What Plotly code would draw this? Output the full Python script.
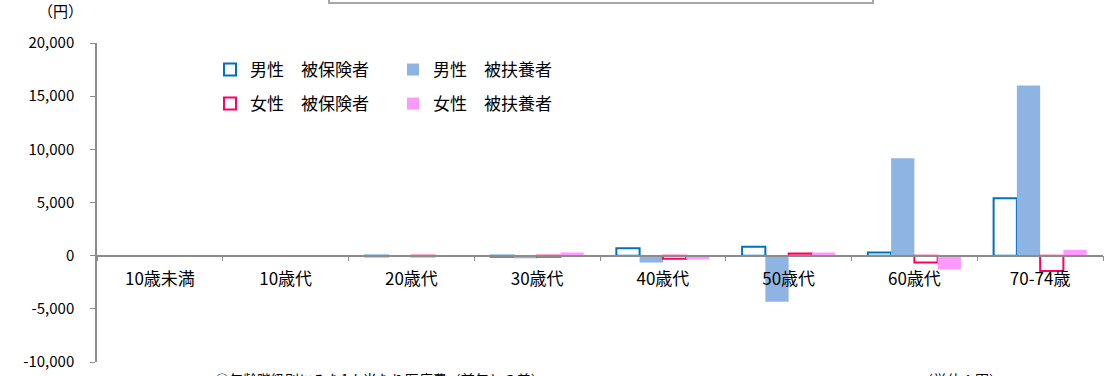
import plotly.graph_objects as go

categories = ["10歳未満", "10歳代", "20歳代", "30歳代", "40歳代", "50歳代", "60歳代", "70-74歳"]
male_insured = [None, None, -60, -100, 700, 850, 300, 5400]
male_dependent = [None, None, 0, -250, -650, -4330, 9150, 16000]
female_insured = [None, None, -60, -100, -300, 200, -650, -1450]
female_dependent = [None, None, 0, 300, -350, 300, -1300, 550]
yticks = [-10000, -5000, 0, 5000, 10000, 15000, 20000]
ytick_text = ["-10,000", "-5,000", "0", "5,000", "10,000", "15,000", "20,000"]

FONT = "Noto Sans CJK JP"
W, H = 1114, 376
# plot area in page pixels: x 97..1103, y 43..362
ML, MT = 97, 43
MR = W - 1103
MB = H - 362

fig = go.Figure()
fig.add_trace(go.Bar(x=categories, y=male_insured, name="男性　被保険者",
                     marker=dict(color="white", line=dict(color="#0070C0", width=2)),
                     legend="legend"))
fig.add_trace(go.Bar(x=categories, y=male_dependent, name="男性　被扶養者",
                     marker=dict(color="#8EB4E3", line=dict(width=0)),
                     legend="legend"))
fig.add_trace(go.Bar(x=categories, y=female_insured, name="女性　被保険者",
                     marker=dict(color="white", line=dict(color="#FF0066", width=2)),
                     legend="legend2"))
fig.add_trace(go.Bar(x=categories, y=female_dependent, name="女性　被扶養者",
                     marker=dict(color="#FF99FF", line=dict(width=0)),
                     legend="legend2"))

pw = W - ML - MR
ph = H - MT - MB
def px_x(x):  # page pixel -> paper fraction
    return (x - ML) / pw
def px_y(y):
    return 1 - (y - MT) / ph

leg_common = dict(orientation="h", font=dict(family=FONT, size=17, color="#000000"),
                  bgcolor="rgba(0,0,0,0)", entrywidth=138, traceorder="normal",
                  xanchor="left", yanchor="middle", itemclick=False, itemwidth=30)

fig.update_layout(
    width=W, height=H,
    margin=dict(l=ML, r=MR, t=MT, b=MB, autoexpand=False),
    paper_bgcolor="white", plot_bgcolor="white",
    barmode="group", bargap=0.26, bargroupgap=0,
    font=dict(family=FONT, size=15, color="#000000"),
    legend=dict(x=px_x(210), y=px_y(70), **leg_common),
    legend2=dict(x=px_x(210), y=px_y(104), **leg_common),
    xaxis=dict(
        anchor="free", position=1/3, automargin=False,
        showline=True, linecolor="#8C8C8C", linewidth=1.5,
        ticks="outside", tickson="boundaries", ticklen=5, tickcolor="#8C8C8C",
        tickfont=dict(family=FONT, size=17, color="#000000"),
        ticklabelstandoff=8,
        showgrid=False, zeroline=False,
    ),
    yaxis=dict(
        range=[-10000, 20000], automargin=False,
        tickvals=yticks, ticktext=ytick_text,
        showline=True, linecolor="#8C8C8C", linewidth=1.5,
        ticks="outside", ticklen=5, tickcolor="#8C8C8C",
        tickfont=dict(family=FONT, size=15, color="#000000"),
        ticklabelstandoff=13,
        showgrid=False, zeroline=False,
    ),
    showlegend=True,
)

# unit label
fig.add_annotation(text="（円）", xref="paper", yref="paper",
                   x=px_x(60), y=px_y(11), showarrow=False,
                   font=dict(family=FONT, size=15, color="#000000"),
                   xanchor="center", yanchor="middle")

# partially visible title box at top
fig.add_shape(type="rect", xref="paper", yref="paper",
              x0=px_x(329), x1=px_x(873), y0=px_y(3), y1=px_y(-20),
              line=dict(color="#A6A6A6", width=2), fillcolor="rgba(0,0,0,0)")

# partially visible captions at the bottom
fig.add_annotation(text="○年齢階級別にみた1人当たり医療費（前年との差）", xref="paper", yref="paper",
                   x=px_x(213), y=px_y(367), showarrow=False, xanchor="left", yanchor="top",
                   font=dict(family=FONT, size=14, color="#000000"))
fig.add_annotation(text="（単位：円）", xref="paper", yref="paper",
                   x=px_x(917), y=px_y(367), showarrow=False, xanchor="left", yanchor="top",
                   font=dict(family=FONT, size=14, color="#000000"))

fig.write_html("out.html", config={"displayModeBar": False},
               post_script="document.body.style.margin='0';")
